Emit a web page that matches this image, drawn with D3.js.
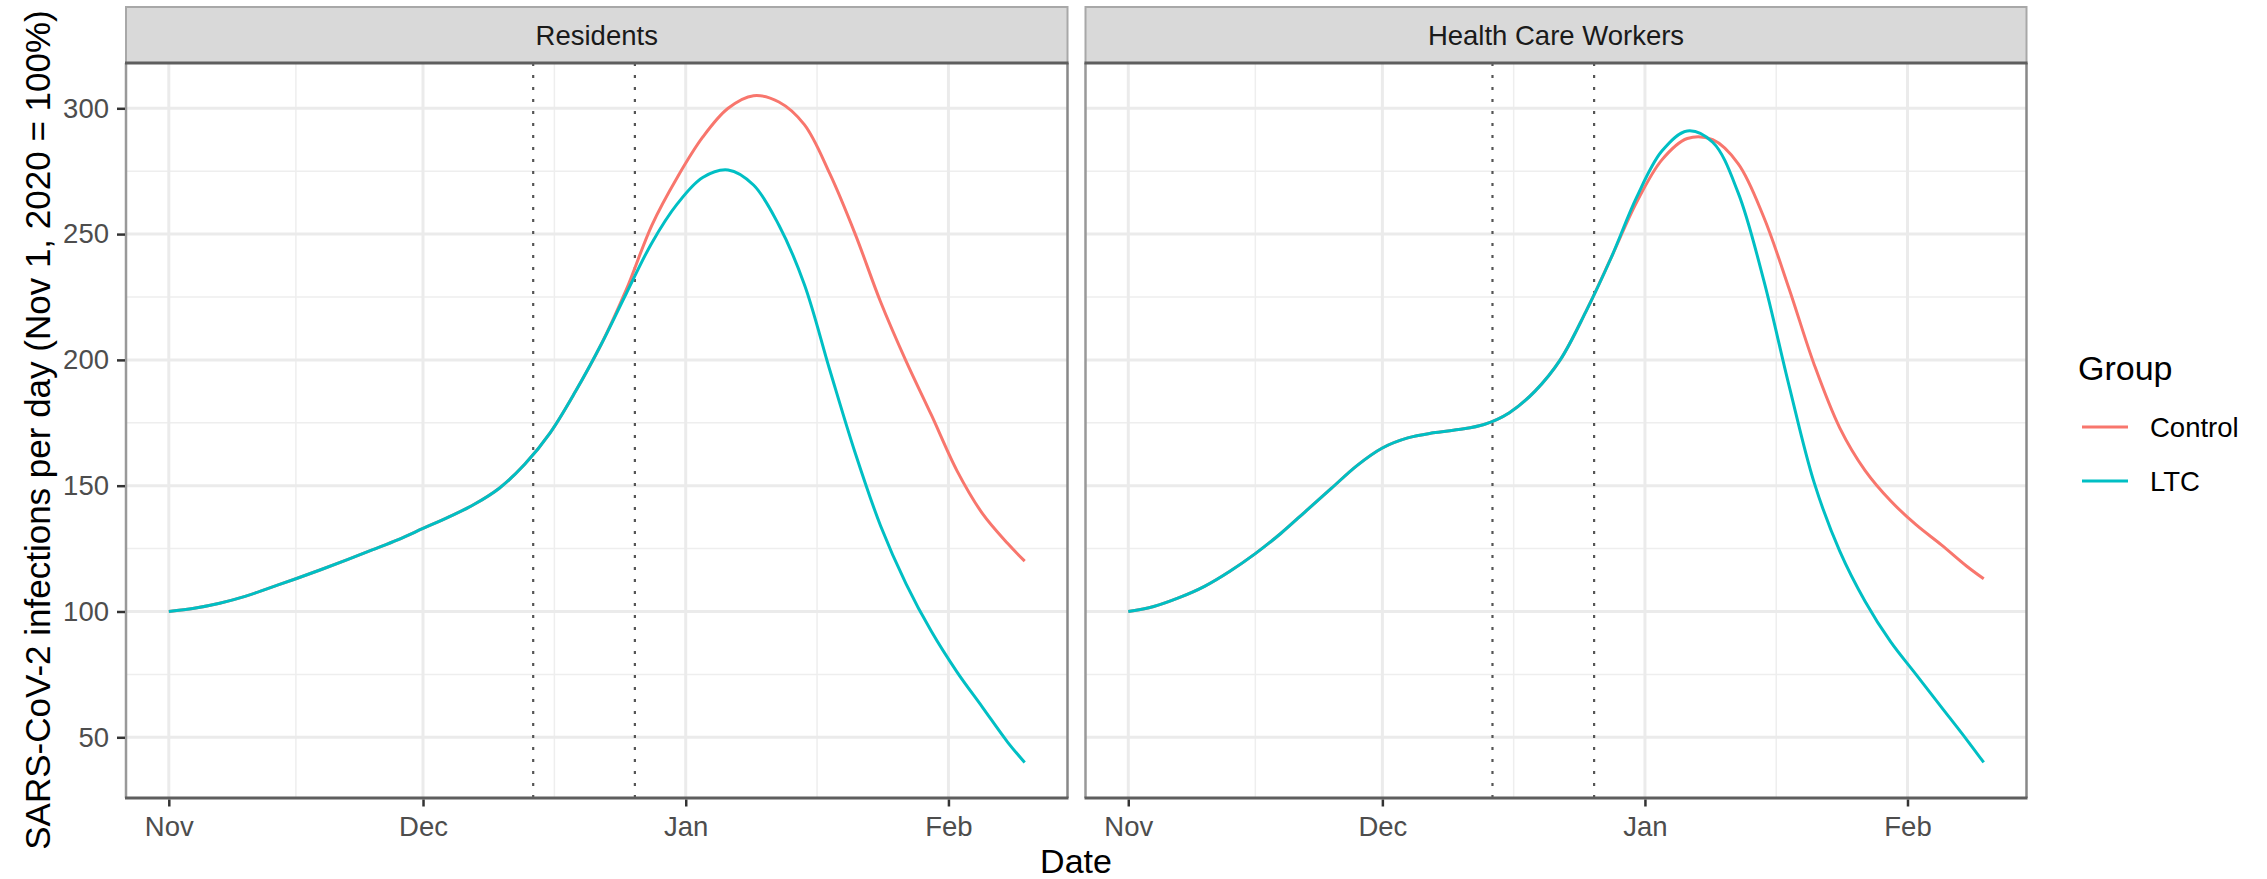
<!DOCTYPE html>
<html lang="en">
<head>
<meta charset="UTF-8">
<title>SARS-CoV-2 infections per day</title>
<script src="https://d3js.org/d3.v7.min.js"></script>
<style>
  body { margin: 0; background: #fff; }
  text { font-family: "Liberation Sans", Arial, sans-serif; }
</style>
</head>
<body>
<script>
// days after Nov 1, 2020
var resDays = [0, 3, 6, 9, 12, 15, 18, 21, 24, 27, 30, 33, 36, 39, 42, 45, 48, 51, 54, 57, 60, 63, 66, 69, 72, 75, 78, 81, 84, 87, 90, 93, 96, 99, 101];
var resControl = [100, 101.3, 103.3, 106, 109.5, 113, 116.7, 120.5, 124.5, 128.5, 133, 137.5, 142.5, 149, 158.5, 171, 187.5, 206,
                  228, 253.5, 272.5, 288.5, 300, 305, 302.5, 293.5, 274, 250, 223, 199.5, 178, 156, 139, 127, 120];
var resLTC = [100, 101.3, 103.3, 106, 109.5, 113, 116.7, 120.5, 124.5, 128.5, 133, 137.5, 142.5, 149, 158.5, 171, 187.5, 206,
              226.5, 246.5, 262, 272.5, 275.5, 269.5, 253.5, 230, 196, 163, 134, 111, 92, 76, 62, 48, 40];

var hcwDays = [0, 3, 6, 9, 12, 15, 18, 21, 24, 27, 30, 33, 36, 39, 42, 45, 48, 51, 54, 57, 60, 63, 66, 69, 72, 75, 78, 81, 84, 87, 90, 93, 96, 99, 101];
var hcwControl = [100, 102, 105.5, 110, 116, 123, 131, 140, 149, 158, 165, 169, 171, 172.3, 174.3, 179, 187.5, 200, 219, 240.5,
                  262.5, 279.5, 288, 287.5, 278, 257, 228.5, 198, 173, 156, 144, 134.5, 126.5, 118, 113];
var hcwLTC = [100, 102, 105.5, 110, 116, 123, 131, 140, 149, 158, 165, 169, 171, 172.3, 174.3, 179, 187.5, 200, 219, 240.5,
              264.5, 283, 291, 286.5, 266.5, 232, 190, 151, 124, 104, 88, 75, 62, 49, 40];

var facets = ["Residents", "Health Care Workers"];
var groups = ["Control", "LTC"];
var groupColors = ["#F8766D", "#00BFC4"];
var vlineDays = [43, 55];
var yTicks = [50, 100, 150, 200, 250, 300];
var yMinor = [75, 125, 175, 225, 275];
var monthTicks = ["2020-11-01", "2020-12-01", "2021-01-01", "2021-02-01"];

var W = 2267, H = 879;
var start = new Date(2020, 10, 1);
function day(d) { return new Date(start.getTime() + d * 864e5); }
var parse = d3.timeParse("%Y-%m-%d");
var majors = monthTicks.map(parse);
var minors = d3.pairs(majors).map(function(p) { return new Date((p[0].getTime() + p[1].getTime()) / 2); });

var plotTop = 63, plotBottom = 798, stripTop = 7;
var panelX = [[126, 1067.5], [1085.5, 2026.5]];

var yScale = d3.scaleLinear().domain([25.87, 318]).range([plotBottom, plotTop]);

var svg = d3.select("body").append("svg").attr("width", W).attr("height", H);

var series = [
  [resControl, resLTC, resDays],
  [hcwControl, hcwLTC, hcwDays]
];

facets.forEach(function(name, fi) {
  var x0 = panelX[fi][0], x1 = panelX[fi][1];
  var x = d3.scaleTime().domain([day(-5.05), day(106.05)]).range([x0, x1]);
  var g = svg.append("g");

  g.append("clipPath").attr("id", "clip" + fi)
    .append("rect").attr("x", x0).attr("y", plotTop).attr("width", x1 - x0).attr("height", plotBottom - plotTop);

  // grid
  var grid = g.append("g").attr("clip-path", "url(#clip" + fi + ")");
  grid.selectAll(".ymin").data(yMinor).enter().append("line")
    .attr("x1", x0).attr("x2", x1).attr("y1", yScale).attr("y2", yScale)
    .attr("stroke", "#EEEEEE").attr("stroke-width", 1.5);
  grid.selectAll(".xmin").data(minors).enter().append("line")
    .attr("x1", x).attr("x2", x).attr("y1", plotTop).attr("y2", plotBottom)
    .attr("stroke", "#EEEEEE").attr("stroke-width", 1.5);
  grid.selectAll(".ymaj").data(yTicks).enter().append("line")
    .attr("x1", x0).attr("x2", x1).attr("y1", yScale).attr("y2", yScale)
    .attr("stroke", "#EBEBEB").attr("stroke-width", 3);
  grid.selectAll(".xmaj").data(majors).enter().append("line")
    .attr("x1", x).attr("x2", x).attr("y1", plotTop).attr("y2", plotBottom)
    .attr("stroke", "#EBEBEB").attr("stroke-width", 3);

  // dotted lines
  grid.selectAll(".vl").data(vlineDays).enter().append("line")
    .attr("x1", function(d) { return x(day(d)); })
    .attr("x2", function(d) { return x(day(d)); })
    .attr("y1", plotTop).attr("y2", plotBottom)
    .attr("stroke", "#555").attr("stroke-width", 2.2)
    .attr("stroke-dasharray", "3,9");

  // curves
  var days = series[fi][2];
  var line = d3.line()
    .x(function(d, i) { return x(day(days[i])); })
    .y(function(d) { return yScale(d); })
    .curve(d3.curveCatmullRom.alpha(0.5));
  [0, 1].forEach(function(gi) {
    grid.append("path").datum(series[fi][gi])
      .attr("d", line).attr("fill", "none")
      .attr("stroke", groupColors[gi]).attr("stroke-width", 3);
  });

  // strip
  g.append("rect").attr("x", x0).attr("y", stripTop).attr("width", x1 - x0).attr("height", plotTop - stripTop)
    .attr("fill", "#D9D9D9").attr("stroke", "#A8A8A8").attr("stroke-width", 2);
  g.append("text").attr("x", (x0 + x1) / 2).attr("y", 45)
    .attr("text-anchor", "middle").attr("font-size", 27.5).attr("fill", "#1A1A1A").text(name);

  // border
  g.append("line").attr("x1", x0).attr("x2", x0).attr("y1", plotTop).attr("y2", plotBottom).attr("stroke", "#999").attr("stroke-width", 2.5);
  g.append("line").attr("x1", x1).attr("x2", x1).attr("y1", plotTop).attr("y2", plotBottom).attr("stroke", "#888").attr("stroke-width", 2.5);
  g.append("line").attr("x1", x0 - 1).attr("x2", x1 + 1).attr("y1", plotTop).attr("y2", plotTop).attr("stroke", "#5E5E5E").attr("stroke-width", 3);
  g.append("line").attr("x1", x0 - 1).attr("x2", x1 + 1).attr("y1", plotBottom).attr("y2", plotBottom).attr("stroke", "#5E5E5E").attr("stroke-width", 3);

  // x axis
  var xa = g.append("g").attr("transform", "translate(0," + (plotBottom + 1.5) + ")")
    .call(d3.axisBottom(x).tickValues(majors).tickFormat(d3.timeFormat("%b")).tickSize(7).tickPadding(10));
  xa.select(".domain").remove();
  xa.selectAll("line").attr("stroke", "#333").attr("stroke-width", 2.5);
  xa.selectAll("text").attr("font-size", 27.5).attr("fill", "#4D4D4D").attr("font-family", "Liberation Sans, Arial, sans-serif");

  if (fi === 0) {
    var ya = g.append("g").attr("transform", "translate(" + (x0 - 1) + ",0)")
      .call(d3.axisLeft(yScale).tickValues(yTicks).tickSize(8).tickPadding(8));
    ya.select(".domain").remove();
    ya.selectAll("line").attr("stroke", "#333").attr("stroke-width", 2.5);
    ya.selectAll("text").attr("font-size", 27.5).attr("fill", "#4D4D4D").attr("font-family", "Liberation Sans, Arial, sans-serif");
  }
});

// axis titles
svg.append("text").attr("x", 1076).attr("y", 873).attr("text-anchor", "middle")
  .attr("font-size", 34).attr("fill", "#000").text("Date");
svg.append("text").attr("transform", "translate(50,430) rotate(-90)").attr("text-anchor", "middle")
  .attr("font-size", 35).attr("fill", "#000").text("SARS-CoV-2 infections per day (Nov 1, 2020 = 100%)");

// legend
var leg = svg.append("g");
leg.append("text").attr("x", 2078).attr("y", 380).attr("font-size", 34).attr("fill", "#000").text("Group");
var items = leg.selectAll(".item").data(groups).enter().append("g")
  .attr("transform", function(d, i) { return "translate(0," + (427 + i * 54) + ")"; });
items.append("line").attr("x1", 2082).attr("x2", 2128).attr("y1", 0).attr("y2", 0)
  .attr("stroke", function(d, i) { return groupColors[i]; }).attr("stroke-width", 3);
items.append("text").attr("x", 2150).attr("y", 0).attr("dy", "0.36em")
  .attr("font-size", 27.5).attr("fill", "#000").text(function(d) { return d; });
</script>
</body>
</html>
